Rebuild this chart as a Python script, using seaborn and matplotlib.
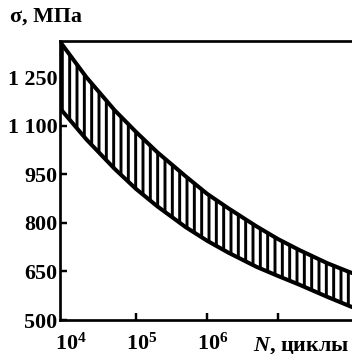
import matplotlib
matplotlib.use('Agg')
import matplotlib.pyplot as plt
from matplotlib.ticker import NullLocator
from matplotlib.transforms import ScaledTranslation
import seaborn as sns

# Data
n_cycles = [8.5e3, 2e4, 5e4, 1e5, 2e5, 5e5, 1e6, 2e6, 5e6, 1e7, 2e7, 5e7, 1.1e8]
sigma_upper = [1360, 1250, 1148, 1081, 1018, 944, 890, 845, 789, 750, 716, 675, 645]
sigma_lower = [1154, 1058, 967, 905, 851, 787, 745, 708, 664, 636, 609, 571, 540]

y_ticks = [500, 650, 800, 950, 1100, 1250]
y_tick_labels = ['500', '650', '800', '950', '1 100', '1 250']
x_ticks = [1e4, 1e5, 1e6, 1e7]
x_tick_labels = ['$10^4$', '$10^5$', '$10^6$', '']

sns.set_style('ticks')
plt.rcParams['font.family'] = ['Liberation Serif', 'DejaVu Serif']
plt.rcParams['font.weight'] = 'bold'
plt.rcParams['text.color'] = 'black'
plt.rcParams['mathtext.fontset'] = 'custom'
plt.rcParams['mathtext.rm'] = 'Liberation Serif:bold'
plt.rcParams['mathtext.it'] = 'Liberation Serif:italic:bold'
plt.rcParams['mathtext.bf'] = 'Liberation Serif:bold'
plt.rcParams['hatch.linewidth'] = 2.4
plt.rcParams['hatch.color'] = 'black'

fig = plt.figure(figsize=(352 / 88, 354 / 88), dpi=88)
ax = fig.add_axes([60 / 352, 1 - 320 / 354, 292 / 352, (320 - 41) / 354])

# Hatched scatter band
ax.fill_between(n_cycles, sigma_lower, sigma_upper, facecolor='white',
                edgecolor='black', hatch='||', linewidth=0)
sns.lineplot(x=n_cycles, y=sigma_upper, color='black', linewidth=3.3, ax=ax)
sns.lineplot(x=n_cycles, y=sigma_lower, color='black', linewidth=3.3, ax=ax)

ax.set_xscale('log')
ax.set_xlim(8.5e3, 1.1e8)
ax.set_ylim(500, 1362)
ax.set_xticks(x_ticks)
ax.set_xticklabels(x_tick_labels)
ax.xaxis.set_minor_locator(NullLocator())
ax.set_yticks(y_ticks)
ax.set_yticklabels(y_tick_labels)
ax.tick_params(direction='in', length=6, width=2, labelsize=18,
               colors='black', labelcolor='black')
ax.tick_params(axis='y', pad=2)
ax.tick_params(axis='x', pad=11)
ax.xaxis.get_major_ticks()[0].tick1line.set_visible(False)

# labels sit a little right of their ticks
shift = ScaledTranslation(6 / 88, 0, fig.dpi_scale_trans)
for lab in ax.get_xticklabels():
    lab.set_transform(lab.get_transform() + shift)

for side in ['left', 'bottom', 'top']:
    ax.spines[side].set_linewidth(2.2)
    ax.spines[side].set_color('black')
ax.spines['right'].set_visible(False)

fig.text(10 / 352, 1 - 17 / 354, 'σ, МПа', fontsize=18, fontweight='bold',
         va='center', color='black')
fig.text(253 / 352, 4 / 354, '$N$, циклы', fontsize=18, fontweight='bold',
         va='baseline', color='black')

plt.savefig('out.png', dpi=88, facecolor='white')
